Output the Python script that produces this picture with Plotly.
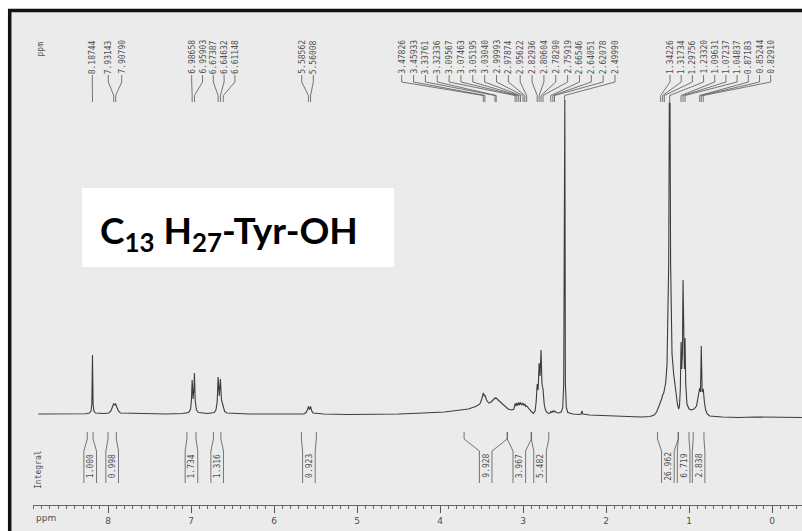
import plotly.graph_objects as go

# 1H NMR trace of C13H27-Tyr-OH: chemical shift (ppm) vs. intensity (arb. units)
shift = [
    8.84, 8.60, 8.40, 8.27,
    8.225, 8.205, 8.195, 8.18744, 8.180, 8.170, 8.15, 8.05,
    7.99, 7.965, 7.945, 7.93143, 7.92, 7.90790, 7.895, 7.875, 7.85,
    7.60, 7.30, 7.10,
    7.03, 7.005, 6.995, 6.98658, 6.975, 6.965, 6.95903, 6.950, 6.935, 6.91,
    6.80, 6.72,
    6.70, 6.685, 6.67387, 6.660, 6.64632, 6.633, 6.61148, 6.595, 6.57,
    6.30, 6.00, 5.75, 5.64,
    5.615, 5.598, 5.58562, 5.573, 5.56008, 5.548, 5.53,
    5.40, 5.10, 4.80, 4.50,
    4.20, 3.95, 3.80, 3.66, 3.57, 3.52, 3.497, 3.47826, 3.468, 3.45933, 3.44,
    3.415, 3.39, 3.36, 3.33761, 3.33, 3.32336, 3.30, 3.26, 3.22, 3.18, 3.135,
    3.11, 3.09567, 3.085, 3.07463, 3.063, 3.05195, 3.041, 3.03040, 3.015,
    2.99993, 2.99, 2.97874, 2.968, 2.95622, 2.93, 2.90, 2.875,
    2.855, 2.842, 2.82936, 2.818, 2.80604, 2.795, 2.78290, 2.772, 2.75919,
    2.745, 2.73, 2.71, 2.69, 2.675, 2.66546, 2.653, 2.64051, 2.63, 2.62078,
    2.60, 2.57,
    2.54, 2.522, 2.510, 2.5035, 2.4965, 2.490, 2.478, 2.46, 2.40, 2.32,
    2.30, 2.29, 2.28, 2.20, 2.00, 1.85, 1.70, 1.58, 1.47, 1.42,
    1.39, 1.365, 1.34226, 1.33, 1.31734, 1.305, 1.29756, 1.28, 1.265, 1.25,
    1.245, 1.2375, 1.2290, 1.222, 1.205, 1.185, 1.16, 1.14, 1.125,
    1.115, 1.105, 1.09631, 1.088, 1.08, 1.07237, 1.064, 1.056, 1.04837,
    1.04, 1.025, 1.00, 0.97, 0.94,
    0.91, 0.89, 0.87183, 0.862, 0.85244, 0.842, 0.82910, 0.815, 0.80,
    0.78, 0.75, 0.60, 0.40, 0.20, 0.00, -0.20, -0.36,
]
intensity = [
    0, 0.3, 0, 0.3,
    1, 3, 10, 59, 10, 3, 1, 0.5,
    1, 3, 7.5, 10.5, 9, 10, 7, 3, 1,
    0.3, 0, 0.5,
    1.5, 5, 14, 34, 15, 25, 41, 14, 4, 1.5,
    0.5, 1.5,
    4, 12, 37, 18, 35, 14, 6, 2.5, 1,
    0, 0, -0.5, 0,
    1.5, 4, 7.5, 4.5, 7.5, 3.5, 1,
    0, -0.5, -0.5, 0,
    1, 2, 3.5, 5, 7.5, 10, 15, 21, 18, 19, 14,
    11, 11.5, 14, 16, 15.5, 16, 14, 11, 7, 5, 4,
    5, 10.5, 8, 11, 8.5, 11.5, 9, 11.5, 9,
    11, 8.5, 10, 7.5, 8, 5, 2.5, 0.5,
    3, 12, 30, 24, 51, 38, 64, 30, 25,
    10, 4, 1.5, 0.5, 1, 2.5, 1.5, 3, 2, 3,
    1.5, 1,
    2, 6, 30, 314, 314, 30, 6, 1.5, 0, -0.5,
    0, 3, 0, -1, -1.5, -2, -2.5, -3, -2.5, -1,
    2, 7, 13, 15, 19, 21, 24, 32, 50, 110,
    150, 311, 311, 150, 60, 40, 22, 10, 5,
    8, 25, 72, 45, 60, 134, 60, 45, 76,
    30, 10, 5, 4, 5,
    8, 16, 26, 22, 68, 22, 25, 12, 4,
    0, -2, -3, -3.5, -3, -3, -3.5, -3.5,
]

# picked peaks (ppm)
peak_ppm = [
    8.18744, 7.93143, 7.90790,
    6.98658, 6.95903, 6.67387, 6.64632, 6.61148,
    5.58562, 5.56008,
    3.47826, 3.45933, 3.33761, 3.32336, 3.09567, 3.07463, 3.05195, 3.03040,
    2.99993, 2.97874, 2.95622, 2.82936, 2.80604, 2.78290, 2.75919, 2.66546,
    2.64051, 2.62078, 2.49990,
    1.34226, 1.31734, 1.29756, 1.23320, 1.09631, 1.07237, 1.04837,
    0.87183, 0.85244, 0.82910,
]

# integration regions (ppm) and their integrals
int_start = [8.25, 8.00, 7.05, 6.73, 5.67, 3.71, 3.19, 2.90, 1.38, 1.13, 0.95]
int_end = [8.18, 7.90, 6.94, 6.64, 5.49, 3.19, 2.90, 2.69, 1.13, 1.00, 0.82]
int_value = ["1.000", "0.998", "1.734", "1.316", "0.923", "9.928",
             "3.967", "5.482", "26.962", "6.719", "2.838"]

tick_vals = [0, 1, 2, 3, 4, 5, 6, 7, 8]
title_text = "<b>C<sub>13</sub> H<sub>27</sub>-Tyr-OH</b>"

# ---- page geometry ----
W, H = 802, 531
ML, MB = 33, 26
PH = H - MB
X_LEFT, X_RIGHT = 8.904, -0.361


def px2ppm(px):
    return X_LEFT + (px - ML) * (X_RIGHT - X_LEFT) / (W - ML)


def ppm2px(v):
    return ML + (v - X_LEFT) * (W - ML) / (X_RIGHT - X_LEFT)


def xp(px):
    return (px - ML) / (W - ML)


def yp(py):
    return 1 - py / PH


INK = "#3c3c3c"
SMALL = dict(family="DejaVu Sans Mono", size=8, color="#505050")

fig = go.Figure()
fig.add_trace(go.Scatter(x=shift, y=intensity, mode="lines",
                         line=dict(color=INK, width=1.1),
                         hoverinfo="skip", showlegend=False))

shapes = []
annotations = []

# sheet background, white title box and frame
shapes.append(dict(type="rect", xref="paper", yref="paper", layer="below",
                   x0=xp(10), x1=xp(W + 2), y0=yp(H + 2), y1=yp(11),
                   fillcolor="#ebebeb", line=dict(width=0)))
shapes.append(dict(type="rect", xref="paper", yref="paper", layer="below",
                   x0=xp(82), x1=xp(394), y0=yp(267), y1=yp(188),
                   fillcolor="#ffffff", line=dict(width=0)))
shapes.append(dict(type="line", xref="paper", yref="paper",
                   x0=xp(8), x1=xp(W + 2), y0=yp(10.5), y1=yp(10.5),
                   line=dict(color="#111111", width=3.5)))
shapes.append(dict(type="line", xref="paper", yref="paper",
                   x0=xp(9.7), x1=xp(9.7), y0=yp(9), y1=yp(H + 2),
                   line=dict(color="#111111", width=3.5)))

# peak-pick labels with leader lines
label_groups = [(92.3, 0.0, 1), (108.3, 13.4, 2), (191.7, 10.8, 5),
                (301.7, 11.6, 2), (401.7, 11.85, 19), (670.0, 11.19, 10)]
label_px = []
for start, step, n in label_groups:
    label_px += [start + step * i for i in range(n)]

for v, lx in zip(peak_ppm, label_px):
    xl = px2ppm(lx)
    path = (f"M {xl},{yp(75)} L {xl},{yp(82)} L {v},{yp(95.5)} L {v},{yp(102)}")
    shapes.append(dict(type="path", xref="x", yref="paper", path=path,
                       line=dict(color="#555555", width=0.8)))
    annotations.append(dict(x=xl, y=yp(75), xref="x", yref="paper",
                            text=f"{v:.5f}", textangle=-90, showarrow=False,
                            xanchor="center", yanchor="bottom", borderpad=0,
                            font=SMALL))

# integral brackets
for a, b, val in zip(int_start, int_end, int_value):
    mid = ppm2px((a + b) / 2)
    half = 6.3
    for top, bot in ((a, px2ppm(mid - half)), (b, px2ppm(mid + half))):
        path = (f"M {top},{yp(432)} L {top},{yp(439)} L {bot},{yp(451)} "
                f"L {bot},{yp(483)}")
        shapes.append(dict(type="path", xref="x", yref="paper", path=path,
                           line=dict(color="#555555", width=0.8)))
    annotations.append(dict(x=px2ppm(mid), y=yp(466), xref="x", yref="paper",
                            text=val, textangle=-90, showarrow=False,
                            xanchor="center", yanchor="middle", font=SMALL))

# side captions
annotations.append(dict(x=xp(40), y=yp(49.5), xref="paper", yref="paper",
                        text="ppm", textangle=-90, showarrow=False,
                        xanchor="center", yanchor="middle", font=SMALL))
annotations.append(dict(x=xp(38), y=yp(470), xref="paper", yref="paper",
                        text="Integral", textangle=-90, showarrow=False,
                        xanchor="center", yanchor="middle", font=SMALL))
annotations.append(dict(x=xp(34), y=yp(518), xref="paper", yref="paper",
                        text="ppm", showarrow=False, xanchor="left",
                        yanchor="middle",
                        font=dict(family="DejaVu Sans", size=9, color="#505050")))

# compound name
annotations.append(dict(x=xp(229), y=yp(233), xref="paper", yref="paper",
                        text=title_text, showarrow=False, xanchor="center",
                        yanchor="middle",
                        font=dict(family="Lato, sans-serif",
                                  size=37, color="#000000")))

fig.update_layout(
    width=W, height=H,
    margin=dict(l=ML, r=0, t=0, b=MB),
    paper_bgcolor="#ffffff",
    plot_bgcolor="rgba(0,0,0,0)",
    showlegend=False,
    shapes=shapes,
    annotations=annotations,
    xaxis=dict(range=[X_LEFT, X_RIGHT], tickvals=tick_vals,
               ticktext=[str(t) for t in tick_vals],
               showgrid=False, zeroline=False, showline=True,
               linecolor="#666666", linewidth=1,
               ticks="outside", ticklen=7, tickcolor="#555555", tickwidth=1,
               tickfont=dict(family="DejaVu Sans", size=9, color="#505050"),
               minor=dict(dtick=0.1, tick0=0, ticks="outside", ticklen=3,
                          tickcolor="#666666", tickwidth=1, showgrid=False)),
    yaxis=dict(range=[-(PH - 414), 414], visible=False, showgrid=False,
               zeroline=False),
)

fig.write_html("out.html")
